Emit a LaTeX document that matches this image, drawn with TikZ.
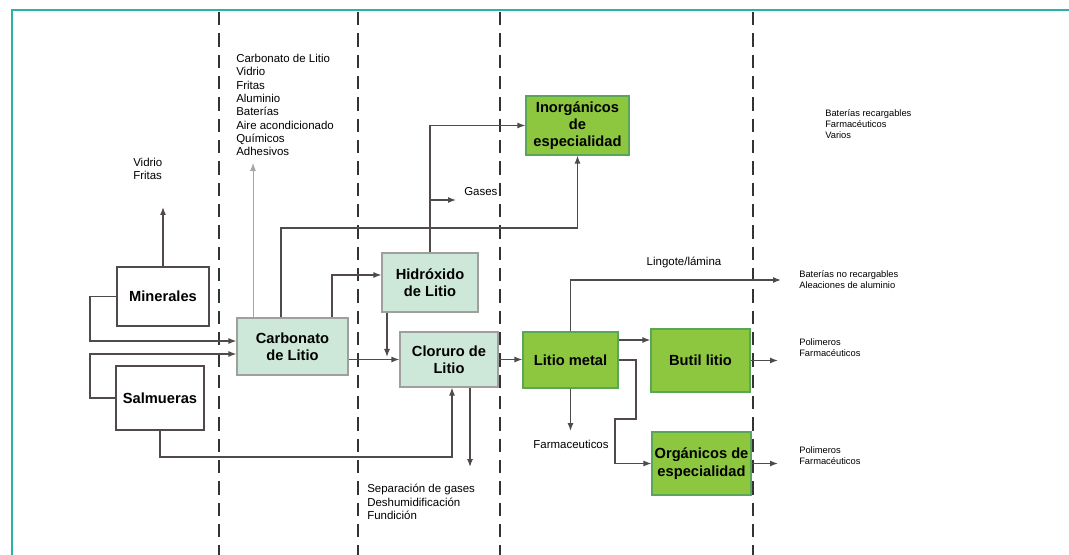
\documentclass[tikz,border=0pt]{standalone}
\usepackage{fontspec}
\setmainfont{Liberation Sans}
\usetikzlibrary{arrows.meta}
\definecolor{marco}{RGB}{40,178,170}
\definecolor{verdeclaro}{RGB}{205,232,216}
\definecolor{verdelima}{RGB}{141,198,63}
\definecolor{linea}{RGB}{80,74,74}
\begin{document}
\begin{tikzpicture}[x=0.75pt,y=-0.75pt,
  every node/.style={inner sep=0pt},
  caja/.style={draw=linea,line width=0.9pt,font=\fontsize{11}{13}\selectfont\bfseries,align=center},
  proc/.style={caja,draw=gray!75,fill=verdeclaro},
  prod/.style={caja,draw=gray!70!green,fill=verdelima},
  flecha/.style={draw=linea,line width=0.9pt,-{Latex[length=6pt,width=4.5pt]}},
  uso/.style={font=\fontsize{8.6}{10}\selectfont,align=left,anchor=north west},
  usochico/.style={font=\fontsize{7}{8.3}\selectfont,align=left,anchor=north west},
  etapa/.style={draw=black!80,line width=1.9pt,dash pattern=on 10pt off 6pt}]
\useasboundingbox (0,0) rectangle (1069,555);
\draw[marco,line width=1.5pt] (1069,10) -- (12,10) -- (12,555);
% stage separators
\foreach \x in {219,358,500,753}
  \draw[etapa] (\x,12) -- (\x,555);
% raw materials
\node[caja,minimum width=69pt,minimum height=44.25pt] (min) at (163,296.5) {Minerales};
\node[caja,minimum width=66pt,minimum height=48pt] (sal) at (160,398) {Salmueras};
% lithium compounds
\node[proc,minimum width=83.25pt,minimum height=42.75pt] (carb) at (292.5,346.5) {Carbonato\\de Litio};
\node[proc,minimum width=72pt,minimum height=44.25pt] (hid) at (430,282.5) {Hidróxido\\de Litio};
\node[proc,minimum width=73.5pt,minimum height=41.25pt] (clo) at (449,359.5) {Cloruro de\\Litio};
% products
\node[prod,minimum width=77.25pt,minimum height=44.25pt] (inorg) at (577.5,125.5) {Inorgánicos\\de\\especialidad};
\node[prod,minimum width=71.25pt,minimum height=42pt] (litio) at (570.5,360) {Litio metal};
\node[prod,minimum width=74.25pt,minimum height=47.25pt] (butil) at (700.5,360.5) {Butil litio};
\node[prod,minimum width=74.25pt,minimum height=47.25pt] (org) at (701.5,463.5) {Orgánicos de\\especialidad};
% uses
\node[uso] (vid) at (133,158) {Vidrio\\Fritas};
\node[uso] (usocarb) at (236,54) {Carbonato de Litio\\Vidrio\\Fritas\\Aluminio\\Baterías\\Aire acondicionado\\Químicos\\Adhesivos};
\node[uso,anchor=west] (gas) at (464,192) {Gases};
\node[uso] (usoclo) at (367,484) {Separación de gases\\Deshumidificación\\Fundición};
\node[uso,anchor=center] (ling) at (684,262) {Lingote/lámina};
\node[uso,anchor=center] (farm) at (571,444) {Farmaceuticos};
\node[usochico] (usoinorg) at (825,109) {Baterías recargables\\Farmacéuticos\\Varios};
\node[usochico] (usoling) at (799,270) {Baterías no recargables\\Aleaciones de aluminio};
\node[usochico] (usobut) at (799,338) {Polimeros\\Farmacéuticos};
\node[usochico] (usoorg) at (799,446) {Polimeros\\Farmacéuticos};
% bends and free ends
\coordinate (vidEnd) at (163,207);
\coordinate (carbEnd) at (253,163);
\coordinate (k1) at (281,228);
\coordinate (k2) at (332,275);
\coordinate (k3) at (387,357);
\coordinate (gasEnd) at (456,200);
\coordinate (k4) at (90,341);
\coordinate (k5) at (90,354);
\coordinate (k6) at (452,457);
\coordinate (sepEnd) at (470,467);
\coordinate (lingEnd) at (781,280);
\coordinate (k7) at (630,340);
\coordinate (k8) at (636,419);
\coordinate (k9) at (615,419);
\coordinate (farmEnd) at (570.5,431);
\coordinate (salida) at (778,0);
% flows
\draw[flecha] (min.north) -- (vidEnd);
\draw[flecha,draw=gray!70,line width=0.6pt] (carb.north -| carbEnd) -- (carbEnd);
\draw[flecha] (carb.north -| k1) -- (k1) -| (inorg.south);
\draw[flecha] (carb.north -| k2) -- (k2) -- (hid.west |- k2);
\draw[flecha] (carb.east |- clo.west) -- (clo.west);
\draw[flecha] (hid.south -| k3) -- (k3);
\draw[flecha] (hid.north) |- (inorg.west);
\draw[flecha] (hid.north |- gasEnd) -- (gasEnd);
\draw[flecha] (min.west) -| (k4) -- (carb.west |- k4);
\draw[flecha] (sal.west) -| (k5) -- (carb.west |- k5);
\draw[flecha] (sal.south) |- (k6) -- (clo.south -| k6);
\draw[flecha] (clo.south -| sepEnd) -- (sepEnd);
\draw[flecha] (clo.east) -- (clo.east -| litio.west);
\draw[flecha] (litio.north) |- (lingEnd);
\draw[flecha] (litio.east |- k7) -- (butil.west |- k7);
\draw[flecha] (litio.east) -| (k8) -- (k9) |- (org.west);
\draw[flecha] (litio.south) -- (farmEnd);
\draw[flecha] (butil.east) -- (butil.east -| salida);
\draw[flecha] (org.east) -- (org.east -| salida);
\end{tikzpicture}
\end{document}
